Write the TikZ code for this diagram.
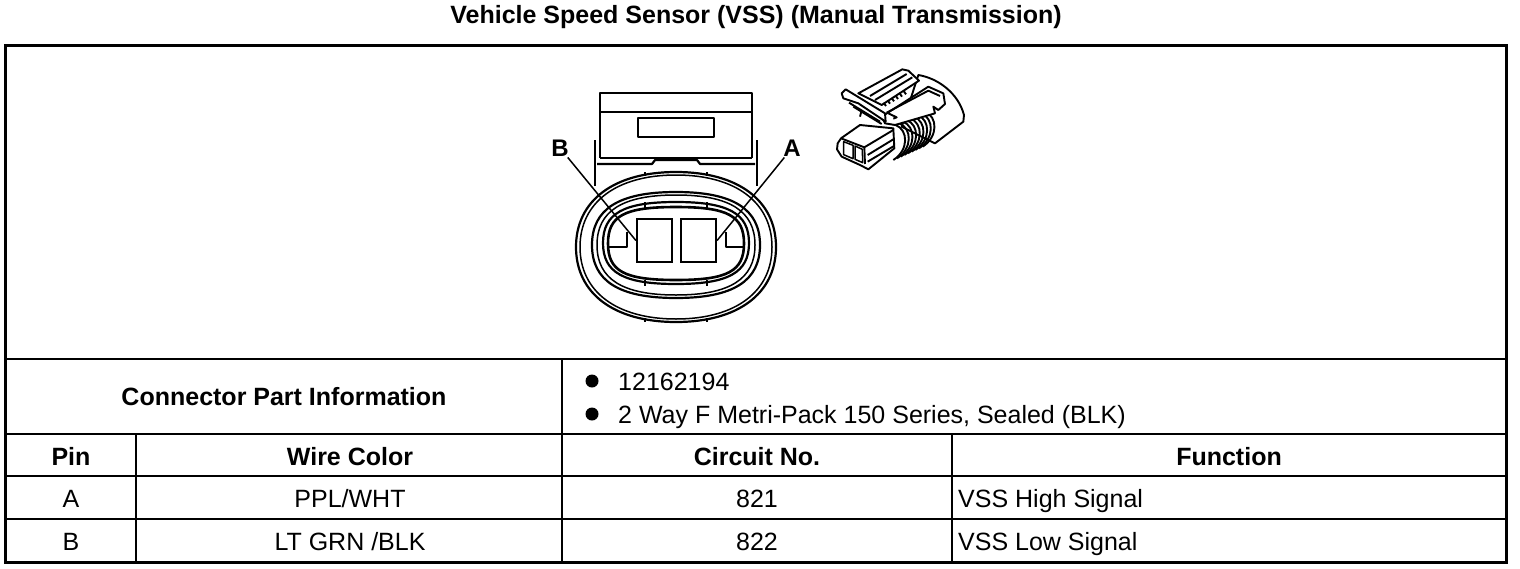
\documentclass[tikz,border=0pt]{standalone}
\usepackage{fontspec}
\setmainfont{Liberation Sans}
\tikzset{
  hdr/.style={font=\fontsize{25}{30}\selectfont\bfseries, inner sep=0pt, anchor=base},
  cell/.style={font=\fontsize{25}{30}\selectfont, inner sep=0pt, anchor=base},
  thin rule/.style={line width=1.2pt},
  thick rule/.style={line width=2.2pt},
  part/.style={line width=2.2pt, line join=round},
  partthin/.style={line width=1.5pt, line join=round},
  sketch/.style={line width=1.9pt, line join=round},
  pinbox/.style={draw, line width=2.2pt, fill=white, minimum width=35pt, minimum height=43pt, inner sep=0pt},
  callout/.style={font=\fontsize{24}{28}\selectfont\bfseries, inner sep=1pt},
  dot/.style={circle, fill=black, minimum size=13pt, inner sep=0pt}
}
% oval with flattened sides, centre (#2,#3), half axes #4 and #5, handle length #6
\newcommand{\sealoval}[6][part]{%
  \draw[#1] (#2-#4,#3) .. controls (#2-#4,#3-#6*#5) and (#2-#6*#4,#3-#5) .. (#2,#3-#5)
    .. controls (#2+#6*#4,#3-#5) and (#2+#4,#3-#6*#5) .. (#2+#4,#3)
    .. controls (#2+#4,#3+#6*#5) and (#2+#6*#4,#3+#5) .. (#2,#3+#5)
    .. controls (#2-#6*#4,#3+#5) and (#2-#4,#3+#6*#5) .. (#2-#4,#3) -- cycle;}
\begin{document}
\begin{tikzpicture}[x=1pt,y=-1pt]
\useasboundingbox (0,0) rectangle (1520,568);

\node [hdr] (title) at (756,23) {Vehicle Speed Sensor (VSS) (Manual Transmission)};

% table frame and rules
\draw [line width=3pt] (5,45) rectangle (1506,562);
\draw [thin rule] (5,359) -- (1506,359);
\draw [thin rule] (5,434) -- (1506,434);
\draw [thick rule] (5,476) -- (1506,476);
\draw [thin rule] (5,519) -- (1506,519);
\draw [thin rule] (136,434) -- (136,562);
\draw [thin rule] (562,359) -- (562,562);
\draw [thin rule] (952,434) -- (952,562);

\node [hdr] (info) at (284,405) {Connector Part Information};
\node [dot] (dot1) at (592,381) {};
\node [dot] (dot2) at (592,414) {};
\node [cell, anchor=base west] (partno) at (618,390) {12162194};
\node [cell, anchor=base west] (series) at (618,423) {2 Way F Metri-Pack 150 Series, Sealed (BLK)};

\node [hdr] (hpin) at (71,465) {Pin};
\node [hdr] (hwire) at (350,465) {Wire Color};
\node [hdr] (hcirc) at (757,465) {Circuit No.};
\node [hdr] (hfunc) at (1229,465) {Function};

\node [cell] (pina) at (71,507) {A};
\node [cell] (wirea) at (350,507) {PPL/WHT};
\node [cell] (circa) at (757,507) {821};
\node [cell, anchor=base west] (funca) at (958,507) {VSS High Signal};
\node [cell] (pinb) at (71,550) {B};
\node [cell] (wireb) at (350,550) {LT GRN /BLK};
\node [cell] (circb) at (757,550) {822};
\node [cell, anchor=base west] (funcb) at (958,550) {VSS Low Signal};

% connector, front view
\draw [part, line width=2.8pt] (600,112) -- (600,93) -- (752,93) -- (752,112);
\draw [part] (600,112) -- (752,112);
\draw [part] (600,112) -- (600,158) (752,112) -- (752,158);
\draw [part] (595,140) -- (595,186) (757,140) -- (757,186);
\draw [part] (600,158) -- (752,158);
\draw [part] (597,164) -- (652,164) -- (655,160) -- (697,160) -- (700,164) -- (755,164);
\draw [part, line width=2.6pt] (638,118) rectangle (714,137);

\sealoval{676}{247}{100}{75}{0.62}
\sealoval[partthin]{676}{247}{96}{72}{0.62}
\sealoval{676}{245}{84}{53}{0.68}
\sealoval[partthin]{676}{245}{79}{50}{0.68}
\sealoval{676}{243}{73}{41}{0.72}
\sealoval[part, line width=2.6pt]{676}{243.5}{68}{36.5}{0.76}

\draw [partthin] (645,172) -- (645,176) (707,172) -- (707,176);
\draw [partthin] (645,318) -- (645,322) (707,318) -- (707,322);
\draw [partthin] (645,202) -- (645,208) (707,202) -- (707,208);
\draw [partthin] (645,280) -- (645,286) (707,280) -- (707,286);

\draw [part] (609,247) -- (627,247) -- (627,232);
\draw [part] (743,247) -- (726,247) -- (726,232);

\node [pinbox] (pinB) at (654.5,240.5) {};
\node [pinbox] (pinA) at (698.5,240.5) {};

\node [callout] (lblB) at (560,148) {B};
\node [callout] (lblA) at (792,148) {A};
\draw [partthin] (lblB) -- (pinB.west);
\draw [partthin] (lblA) -- (pinA.east);

% connector, small view
\begin{scope}[shift={(825,60)},x=0.3333pt,y=-0.3333pt]
% dome
\draw [sketch, fill=white] (280,45) .. controls (340,55) and (400,100) .. (417,165) -- (415,185) -- (330,250) -- (230,200) -- cycle;
% nose
\draw [sketch, fill=white] (48,235) -- (105,195) -- (205,205) -- (208,265) -- (130,328) -- (105,315) -- (50,290) -- (36,268) -- (38,250) -- cycle;
\draw [sketch] (48,235) -- (118,262) -- (120,312) (118,262) -- (205,210);
\draw [partthin] (56,245) -- (84,256) -- (84,296) -- (56,284) -- cycle;
\draw [partthin] (90,258) -- (112,268) -- (113,308) -- (90,298) -- cycle;
\draw [sketch] (128,285) -- (205,238) (128,305) -- (207,258);
% ribs
\foreach \r in {0,...,8} {
  \draw [sketch] (212+11*\r,195-5*\r) .. controls (250+11*\r,210-5*\r) and (252+11*\r,270-5*\r) .. (205+11*\r,300-5*\r);
}
% top plate
\draw [sketch, fill=white] (100,100) -- (232,28) -- (250,32) -- (282,62) -- (170,135) -- cycle;
\draw [sketch] (245,42) -- (135,108) (262,52) -- (150,120);
\foreach \t in {0,...,5} {
  \draw [sketch] (176+12*\t,128-7*\t) -- (183+12*\t,138-7*\t);
}
% right block
\draw [sketch, fill=white] (170,170) -- (310,80) -- (355,100) -- (360,132) -- (340,150) -- (325,140) -- (330,160) -- (210,195) -- (180,190) -- cycle;
\draw [sketch] (185,158) -- (310,92) -- (345,108) (190,160) -- (215,172) -- (205,176);
% arm
\draw [sketch, fill=white] (50,100) -- (62,88) -- (180,160) -- (182,185) -- (100,130) -- (55,115) -- cycle;
\draw [sketch] (72,128) -- (165,185) (85,140) -- (170,192) (105,170) -- (110,150);
\end{scope}
\end{tikzpicture}
\end{document}
